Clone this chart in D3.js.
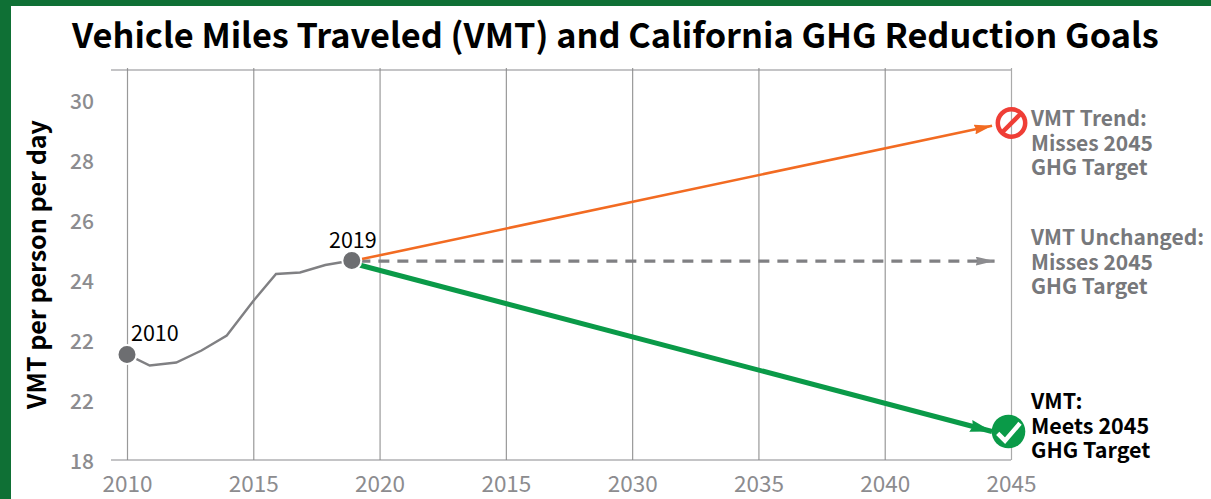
<!doctype html>
<html>

<head>
    <meta charset="utf-8">
    <title>VMT</title>
    <style>
        body { margin: 0; background: #fff; }
        svg { display: block; font-family: "Noto Sans CJK SC", "Noto Sans", sans-serif; }
    </style>
    <script src="https://cdn.jsdelivr.net/npm/d3@7"></script>
</head>

<body>
    <svg width="1211" height="499"></svg>
    <script>
    // values
    var histYears = [2010, 2010.9, 2011.95, 2012.95, 2013.95, 2015, 2015.9, 2016.85, 2017.85, 2018.9];
    var histVmt = [21.52, 21.15, 21.25, 21.65, 22.15, 23.3, 24.2, 24.25, 24.5, 24.65];
    var trendYears = [2019.2, 2044.25];
    var trendVmt = [24.68, 29.14];
    var flatYears = [2019.2, 2044.35];
    var flatVmt = [24.63, 24.63];
    var goalYears = [2019.2, 2044.25];
    var goalVmt = [24.5, 18.95];

    // the labels are printed this way in the original chart
    var xTicks = [2010, 2015, 2020, 2025, 2030, 2035, 2040, 2045];
    var xLabels = ["2010", "2015", "2020", "2015", "2030", "2035", "2040", "2045"];
    var yTicks = [30, 28, 26, 24, 22, 20, 18];
    var yLabels = ["30", "28", "26", "24", "22", "22", "18"];

    var svg = d3.select("svg");

    var x = d3.scaleLinear().domain([2010, 2045]).range([127, 1011]);
    var y = d3.scaleLinear().domain([18, 31]).range([460, 70]);

    // frame
    svg.append("rect").attr("width", 1211).attr("height", 6).attr("fill", "#0f7035");
    svg.append("rect").attr("width", 11).attr("height", 499).attr("fill", "#0f7035");

    svg.append("text")
        .attr("x", 72).attr("y", 48)
        .attr("font-size", 34.3).attr("font-weight", 700).attr("fill", "#000")
        .text("Vehicle Miles Traveled (VMT) and California GHG Reduction Goals");

    // vertical grid + bottom labels
    var xAxis = svg.append("g")
        .attr("transform", "translate(0,460)")
        .call(d3.axisBottom(x).tickValues(xTicks).tickSize(392)
            .tickFormat(function(d, i) { return xLabels[i]; }));
    xAxis.select(".domain").remove();
    xAxis.selectAll("line").attr("y2", -392)
        .attr("stroke", function(d) { return d === 2045 ? "#aaa" : "#999"; })
        .attr("stroke-width", 1.2);
    xAxis.selectAll("text")
        .attr("y", 0).attr("dy", 32)
        .attr("font-size", 22.5).attr("font-family", "\"Noto Sans CJK SC\"").attr("fill", "#8c8c8f");

    var yAxis = svg.append("g")
        .attr("transform", "translate(94,0)")
        .call(d3.axisLeft(y).tickValues(yTicks).tickSize(0).tickPadding(0)
            .tickFormat(function(d, i) { return yLabels[i]; }));
    yAxis.select(".domain").remove();
    yAxis.selectAll("text")
        .attr("dy", "0.4em")
        .attr("font-size", 21).attr("font-weight", 500).attr("font-family", "\"Noto Sans CJK SC\"").attr("fill", "#8c8c8f");

    // top and bottom rules
    svg.selectAll(".rule")
        .data([31, 18])
        .enter().append("line")
        .attr("x1", 111).attr("x2", x(2045))
        .attr("y1", function(d) { return y(d); })
        .attr("y2", function(d) { return y(d); })
        .attr("stroke", "#8a8a8d").attr("stroke-width", 1.2);

    svg.append("text")
        .attr("transform", "translate(46,264.5) rotate(-90)")
        .attr("text-anchor", "middle")
        .attr("font-size", 25).attr("font-weight", 700)
        .text("VMT per person per day");

    var line = d3.line().x(function(d) { return x(d[0]); }).y(function(d) { return y(d[1]); });

    svg.append("path")
        .attr("d", line(d3.zip(histYears, histVmt)))
        .attr("fill", "none").attr("stroke", "#808083").attr("stroke-width", 2.4);

    function arrow(id, color, w, h) {
        svg.append("marker")
            .attr("id", id)
            .attr("markerUnits", "userSpaceOnUse")
            .attr("viewBox", "0 -10 20 20")
            .attr("preserveAspectRatio", "none")
            .attr("refX", 20).attr("refY", 0)
            .attr("markerWidth", w).attr("markerHeight", h)
            .attr("orient", "auto")
            .append("path").attr("d", "M0,-10L20,0L0,10L2,0Z").attr("fill", color);
    }
    arrow("a-orange", "#f26b22", 18, 10);
    arrow("a-gray", "#8c8c8f", 19, 9);
    arrow("a-green", "#0a9a48", 22, 12);

    svg.append("path")
        .attr("d", line(d3.zip(flatYears, flatVmt)))
        .attr("fill", "none").attr("stroke", "#808083").attr("stroke-width", 3.4)
        .attr("stroke-dasharray", "11 8").attr("marker-end", "url(#a-gray)");
    svg.append("path")
        .attr("d", line(d3.zip(trendYears, trendVmt)))
        .attr("fill", "none").attr("stroke", "#f26b22").attr("stroke-width", 2.6)
        .attr("marker-end", "url(#a-orange)");
    svg.append("path")
        .attr("d", line(d3.zip(goalYears, goalVmt)))
        .attr("fill", "none").attr("stroke", "#0a9a48").attr("stroke-width", 5)
        .attr("marker-end", "url(#a-green)");

    // end points of the history line
    svg.selectAll(".dot")
        .data([[histYears[0], histVmt[0]], [histYears[9], histVmt[9]]])
        .enter().append("circle")
        .attr("cx", function(d) { return x(d[0]); })
        .attr("cy", function(d) { return y(d[1]); })
        .attr("r", 9.5)
        .attr("fill", "#6d6e71").attr("stroke", "#fff").attr("stroke-width", 2);

    svg.append("text").attr("x", 131).attr("y", 341).attr("font-size", 21.5).text("2010");
    svg.append("text").attr("x", 329).attr("y", 248).attr("font-size", 21.5).text("2019");

    // no-entry icon
    var miss = svg.append("g").attr("transform", "translate(1011.5,123)");
    miss.append("circle").attr("r", 13.7).attr("fill", "none").attr("stroke", "#ef3e36").attr("stroke-width", 4.5);
    miss.append("line").attr("x1", -9).attr("y1", 9).attr("x2", 9).attr("y2", -9)
        .attr("stroke", "#ef3e36").attr("stroke-width", 4.5);

    // check icon
    var meet = svg.append("g").attr("transform", "translate(1008.5,431.5)");
    meet.append("circle").attr("r", 16.8).attr("fill", "#0a9a48");
    meet.append("path").attr("d", "M-10.8,1.8L-3.5,9.2L11.5,-8.2")
        .attr("fill", "none").attr("stroke", "#fff").attr("stroke-width", 4.5);

    function block(lines, top, color, size) {
        svg.append("g").selectAll("text")
            .data(lines)
            .enter().append("text")
            .attr("x", 1031)
            .attr("y", function(d, i) { return top + i * 24.5; })
            .attr("font-size", size).attr("font-weight", 700).attr("fill", color)
            .text(function(d) { return d; });
    }
    block(["VMT Trend:", "Misses 2045", "GHG Target"], 126, "#77787b", 21);
    block(["VMT Unchanged:", "Misses 2045", "GHG Target"], 245, "#77787b", 21);
    block(["VMT:", "Meets 2045", "GHG Target"], 409, "#000", 21.5);
    </script>
</body>

</html>
